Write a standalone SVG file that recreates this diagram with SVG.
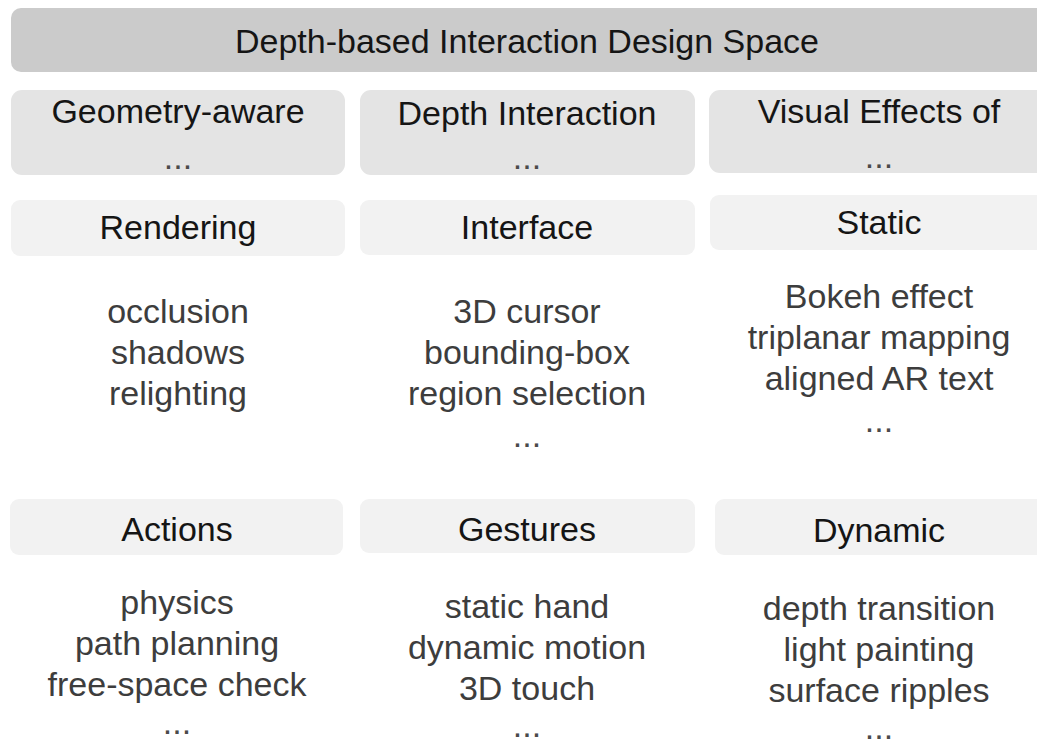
<svg xmlns="http://www.w3.org/2000/svg" width="1037" height="747" viewBox="0 0 1037 747">
<style>
text{font-family:"Liberation Sans",Arial,sans-serif;font-size:34px;text-anchor:middle}
.h{fill:#151515}
.i{fill:#3d3d3d}
.d{fill:#4a4a4a}
.top{fill:#cbcbcb}
.cat{fill:#e4e4e4}
.sub{fill:#f2f2f2}
</style>
<rect width="1037" height="747" fill="#ffffff"/>
<g id="title">
<rect class="top" x="11" y="8" width="1045" height="64" rx="10"/>
<text class="h" x="527" y="53">Depth-based Interaction Design Space</text>
</g>
<g id="cat-geometry">
<rect class="cat" x="11" y="90" width="334" height="85" rx="11"/>
<text class="h" x="178" y="123">Geometry-aware</text>
<text class="d" x="178" y="169">...</text>
</g>
<g id="cat-depth">
<rect class="cat" x="360" y="90" width="335" height="85" rx="11"/>
<text class="h" x="527" y="125">Depth Interaction</text>
<text class="d" x="527" y="169">...</text>
</g>
<g id="cat-visual">
<rect class="cat" x="709" y="90" width="345" height="83" rx="11"/>
<text class="h" x="879" y="123">Visual Effects of</text>
<text class="d" x="879" y="168">...</text>
</g>
<g id="rendering">
<rect class="sub" x="11" y="200" width="334" height="56" rx="9"/>
<text class="h" x="178" y="239">Rendering</text>
<text class="i" x="178" y="323">occlusion</text>
<text class="i" x="178" y="364">shadows</text>
<text class="i" x="178" y="405">relighting</text>
</g>
<g id="interface">
<rect class="sub" x="360" y="200" width="335" height="55" rx="9"/>
<text class="h" x="527" y="239">Interface</text>
<text class="i" x="527" y="323">3D cursor</text>
<text class="i" x="527" y="364">bounding-box</text>
<text class="i" x="527" y="405">region selection</text>
<text class="d" x="527" y="447">...</text>
</g>
<g id="static">
<rect class="sub" x="710" y="195" width="345" height="55" rx="9"/>
<text class="h" x="879" y="234">Static</text>
<text class="i" x="879" y="308">Bokeh effect</text>
<text class="i" x="879" y="349">triplanar mapping</text>
<text class="i" x="879" y="390">aligned AR text</text>
<text class="d" x="879" y="432">...</text>
</g>
<g id="actions">
<rect class="sub" x="10" y="499" width="333" height="56" rx="9"/>
<text class="h" x="177" y="541">Actions</text>
<text class="i" x="177" y="614">physics</text>
<text class="i" x="177" y="655">path planning</text>
<text class="i" x="177" y="696">free-space check</text>
<text class="d" x="177" y="734">...</text>
</g>
<g id="gestures">
<rect class="sub" x="360" y="499" width="335" height="54" rx="9"/>
<text class="h" x="527" y="541">Gestures</text>
<text class="i" x="527" y="618">static hand</text>
<text class="i" x="527" y="659">dynamic motion</text>
<text class="i" x="527" y="700">3D touch</text>
<text class="d" x="527" y="737">...</text>
</g>
<g id="dynamic">
<rect class="sub" x="715" y="499" width="340" height="56" rx="9"/>
<text class="h" x="879" y="542">Dynamic</text>
<text class="i" x="879" y="620">depth transition</text>
<text class="i" x="879" y="661">light painting</text>
<text class="i" x="879" y="702">surface ripples</text>
<text class="d" x="879" y="739">...</text>
</g>
<g id="connectors"/>
</svg>
